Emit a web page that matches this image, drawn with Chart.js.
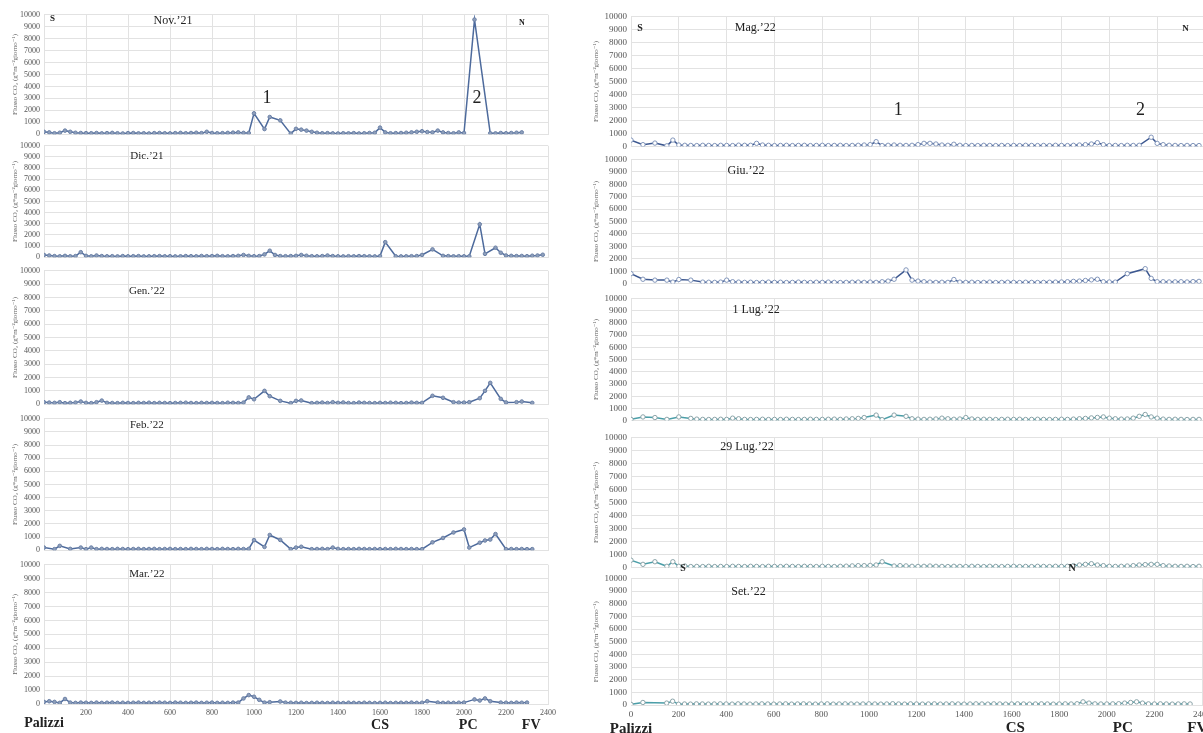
<!DOCTYPE html>
<html>
<head>
<meta charset="utf-8">
<script src="https://cdn.jsdelivr.net/npm/chart.js@4.4.1/dist/chart.umd.min.js"></script>
<style>
  body { margin: 0; background: #fff; overflow: hidden; width: 1203px; height: 733px; position: relative; }
  canvas { position: absolute; }
</style>
</head>
<body>
<script>
// distanza lungo il profilo (m), un punto ogni 25 m
const distanza = [
  0, 25, 50, 75, 100, 125, 150, 175,
  200, 225, 250, 275, 300, 325, 350, 375,
  400, 425, 450, 475, 500, 525, 550, 575,
  600, 625, 650, 675, 700, 725, 750, 775,
  800, 825, 850, 875, 900, 925, 950, 975,
  1000, 1025, 1050, 1075, 1100, 1125, 1150, 1175,
  1200, 1225, 1250, 1275, 1300, 1325, 1350, 1375,
  1400, 1425, 1450, 1475, 1500, 1525, 1550, 1575,
  1600, 1625, 1650, 1675, 1700, 1725, 1750, 1775,
  1800, 1825, 1850, 1875, 1900, 1925, 1950, 1975,
  2000, 2025, 2050, 2075, 2100, 2125, 2150, 2175,
  2200, 2225, 2250, 2275, 2300, 2325, 2350, 2375,
  2400
];
const xTicks = [0, 200, 400, 600, 800, 1000, 1200, 1400, 1600, 1800, 2000, 2200, 2400];
const yTicks = [0, 1000, 2000, 3000, 4000, 5000, 6000, 7000, 8000, 9000, 10000];

// flusso CO2 (g*m-2*giorno-1)
const nov21 = [
  200, 150, 80, 120, 300, 200, 120, 100,
  90, 80, 100, 70, 90, 110, 80, 60,
  90, 100, 70, 80, 60, 90, 100, 80,
  70, 90, 110, 80, 100, 120, 90, 200,
  100, 80, 90, 110, 130, 150, 110, 100,
  1750, null, 430, 1440, null, 1160, null, 50,
  450, 380, 300, 200, 120, 80, 90, 70,
  60, 80, 70, 90, 60, 80, 100, 120,
  550, 150, 80, 90, 100, 120, 150, 200,
  250, 180, 150, 300, 150, 100, 80, 150,
  100, null, 9600, null, null, 80, 70, 100,
  80, 100, 120, 150, null, null, null, null,
  null
];
const dic21 = [
  200, 150, 100, 80, 120, 80, 100, 450,
  120, 80, 150, 100, 80, 90, 70, 100,
  80, 90, 100, 70, 80, 90, 100, 80,
  90, 70, 80, 100, 90, 80, 110, 90,
  100, 120, 90, 80, 100, 120, 200, 120,
  90, 100, 250, 580, 200, 100, 90, 100,
  120, 200, 130, 90, 80, 100, 150, 100,
  80, 70, 90, 80, 100, 90, 80, 70,
  100, 1350, null, 80, 70, 80, 90, 100,
  200, null, 700, null, 120, 100, 80, 90,
  80, 80, null, 2950, 300, null, 850, 400,
  150, 120, 100, 110, 90, 130, 150, 220,
  null
];
const gen22 = [
  150, 120, 100, 150, 80, 100, 120, 200,
  100, 80, 150, 270, 100, 90, 80, 100,
  90, 80, 100, 90, 110, 80, 100, 90,
  80, 90, 100, 110, 90, 80, 100, 90,
  100, 90, 80, 110, 100, 90, 120, 510,
  370, null, 1000, 600, null, 250, null, 80,
  250, 280, null, 80, 100, 120, 90, 150,
  100, 130, 90, 80, 120, 100, 90, 80,
  100, 90, 110, 100, 80, 90, 120, 100,
  100, null, 630, null, 480, null, 150, 120,
  120, 150, null, 450, 1000, 1600, null, 400,
  130, null, 150, 200, null, 100, null, null,
  null
];
const feb22 = [
  200, null, 80, 330, null, 100, null, 200,
  80, 200, 80, 100, 90, 80, 100, 90,
  80, 90, 100, 80, 90, 100, 80, 90,
  100, 80, 90, 80, 100, 90, 80, 100,
  90, 80, 100, 90, 80, 100, 90, 100,
  770, null, 250, 1160, null, 780, null, 80,
  200, 260, null, 80, 90, 100, 80, 200,
  100, 80, 90, 80, 100, 90, 80, 90,
  80, 90, 80, 100, 90, 80, 90, 80,
  80, null, 600, null, 930, null, 1350, null,
  1580, 200, null, 570, 740, 810, 1230, null,
  80, 90, 80, 90, 80, 80, null, null,
  null
];
const mar22 = [
  150, 200, 150, 80, 360, 100, 80, 100,
  90, 80, 100, 80, 90, 100, 80, 90,
  80, 90, 100, 80, 90, 80, 100, 90,
  80, 100, 90, 80, 90, 100, 80, 90,
  100, 80, 90, 80, 100, 100, 400, 640,
  520, 300, 100, 130, null, 180, 100, 90,
  80, 90, 70, 80, 90, 80, 70, 90,
  80, 70, 90, 80, 70, 90, 80, 70,
  80, 90, 70, 80, 90, 80, 100, 80,
  90, 200, null, 100, 80, 90, 80, 90,
  100, null, 330, 250, 400, 200, null, 100,
  90, 80, 100, 90, 100, null, null, null,
  null
];
const mag22 = [
  500, null, 150, null, 270, null, 60, 500,
  120, 100, 90, 80, 100, 90, 80, 100,
  90, 80, 110, 100, 100, 250, 120, 100,
  80, 90, 100, 80, 90, 100, 80, 90,
  100, 80, 90, 100, 80, 90, 100, 120,
  150, 380, 80, 100, 120, 100, 90, 100,
  150, 250, 250, 200, 120, 100, 180, 100,
  80, 90, 80, 100, 90, 80, 90, 80,
  90, 80, 100, 90, 80, 90, 80, 100,
  90, 80, 100, 120, 150, 200, 300, 150,
  80, 90, 80, 100, 90, 100, null, 720,
  250, 150, 100, 90, 80, 90, 80, 80,
  null
];
const giu22 = [
  800, null, 350, null, 280, null, 280, 120,
  330, null, 280, null, 120, 110, 100, 120,
  280, 150, 120, 100, 110, 90, 100, 120,
  100, 110, 90, 100, 120, 100, 90, 110,
  100, 120, 100, 90, 100, 110, 120, 100,
  120, 100, 150, 200, 350, null, 1100, 280,
  200, 150, 120, 100, 110, 100, 330, 120,
  100, 110, 90, 100, 120, 90, 100, 110,
  100, 90, 110, 100, 90, 100, 110, 120,
  130, 150, 180, 200, 250, 300, 350, 150,
  130, 120, null, 800, null, null, 1200, 420,
  150, 150, 130, 140, 150, 130, 160, 180,
  null
];
const lug1_22 = [
  100, null, 300, null, 250, null, 100, null,
  300, null, 180, 120, 100, 90, 100, 110,
  100, 200, 150, 100, 90, 100, 110, 90,
  100, 90, 110, 100, 90, 100, 110, 100,
  100, 110, 120, 100, 130, 150, 180, 250,
  null, 450, 80, null, 450, null, 350, 150,
  120, 100, 110, 130, 200, 150, 110, 130,
  250, 130, 100, 110, 100, 90, 100, 110,
  100, 110, 90, 100, 110, 100, 90, 100,
  110, 100, 120, 150, 180, 220, 260, 300,
  200, 150, 120, 130, 200, 350, 500, 300,
  200, 120, 100, 110, 100, 90, 100, 100,
  null
];
const lug29_22 = [
  570, null, 250, null, 450, null, 100, 450,
  100, 120, 80, 90, 80, 100, 80, 90,
  80, 100, 90, 80, 100, 90, 80, 100,
  90, 80, 100, 90, 80, 100, 90, 80,
  100, 90, 80, 100, 110, 130, 150, 150,
  170, 200, 450, null, 120, 150, 130, 100,
  90, 100, 120, 100, 90, 80, 100, 90,
  80, 100, 90, 80, 100, 90, 80, 90,
  100, 80, 90, 80, 100, 90, 80, 100,
  90, 100, 150, 200, 250, 300, 200, 150,
  100, 90, 100, 120, 150, 200, 230, 250,
  250, 150, 120, 100, 90, 100, 80, 100,
  null
];
const set22 = [
  50, null, 200, null, null, null, 150, 300,
  60, 80, 70, 90, 80, 70, 80, 90,
  80, 70, 90, 80, 70, 80, 90, 80,
  70, 80, 90, 70, 80, 90, 80, 70,
  80, 90, 70, 80, 90, 80, 70, 80,
  90, 80, 70, 80, 100, 80, 70, 90,
  80, 70, 80, 90, 70, 80, 90, 80,
  70, 80, 90, 80, 70, 90, 80, 70,
  80, 90, 80, 70, 80, 90, 80, 70,
  80, 90, 80, 100, 250, 150, 90, 80,
  80, 90, 100, 150, 200, 250, 150, 90,
  80, 90, 80, 70, 80, 90, 80, null,
  null
];

const FONT = '"Liberation Serif", "DejaVu Serif", serif';
const titoloY = 'Flusso CO\u2082 (g*m\u207B\u00B2giorno\u207B\u00B9)';

// etichette di testo (posizionate in coordinate dei dati)
const etichette = {
  nov: [
    { text: 'S', x: 40, y: 9650, size: 9, bold: true },
    { text: 'Nov.\u201921', x: 614, y: 9500, size: 12 },
    { text: '1', x: 1062, y: 3000, size: 18 },
    { text: '2', x: 2062, y: 3000, size: 18 },
    { text: 'N', x: 2276, y: 9350, size: 8, bold: true }
  ],
  dic: [{ text: 'Dic.\u201921', x: 490, y: 9100, size: 11 }],
  gen: [{ text: 'Gen.\u201922', x: 490, y: 8500, size: 11 }],
  feb: [{ text: 'Feb.\u201922', x: 490, y: 9500, size: 11 }],
  mar: [
    { text: 'Mar.\u201922', x: 490, y: 9350, size: 11 },
    { text: 'Palizzi', x: 0, below: 19, size: 14, bold: true },
    { text: 'CS', x: 1600, below: 21, size: 14, bold: true },
    { text: 'PC', x: 2020, below: 21, size: 14, bold: true },
    { text: 'FV', x: 2320, below: 21, size: 14, bold: true }
  ],
  mag: [
    { text: 'S', x: 38, y: 9100, size: 10, bold: true },
    { text: 'Mag.\u201922', x: 520, y: 9100, size: 12 },
    { text: '1', x: 1117, y: 2800, size: 18 },
    { text: '2', x: 2130, y: 2800, size: 18 },
    { text: 'N', x: 2318, y: 9050, size: 9, bold: true }
  ],
  giu: [{ text: 'Giu.\u201922', x: 481, y: 9050, size: 12 }],
  lug1: [{ text: '1 Lug.\u201922', x: 523, y: 9050, size: 12 }],
  lug29: [
    { text: '29 Lug.\u201922', x: 485, y: 9250, size: 12 },
    { text: 'S', x: 218, y: -60, size: 10, bold: true },
    { text: 'N', x: 1844, y: -30, size: 10, bold: true }
  ],
  set: [
    { text: 'Set.\u201922', x: 494, y: 8900, size: 12 },
    { text: 'Palizzi', x: 0, below: 24, size: 15, bold: true },
    { text: 'CS', x: 1615, below: 23, size: 15, bold: true },
    { text: 'PC', x: 2067, below: 23, size: 15, bold: true },
    { text: 'FV', x: 2380, below: 23, size: 15, bold: true }
  ]
};

const pluginEtichette = {
  id: 'etichette',
  afterDatasetsDraw(chart) {
    const items = etichette[chart.canvas.id] || [];
    const { ctx, chartArea } = chart;
    const xs = chart.scales.x, ys = chart.scales.y;
    items.forEach((it) => {
      ctx.save();
      ctx.font = (it.bold ? 'bold ' : '') + it.size + 'px ' + FONT;
      ctx.fillStyle = '#222';
      ctx.textAlign = 'center';
      ctx.textBaseline = 'middle';
      const px = xs.getPixelForValue(it.x);
      const py = it.y !== undefined ? ys.getPixelForValue(it.y) : chartArea.bottom + it.below;
      ctx.fillText(it.text, px, py);
      ctx.restore();
    });
  }
};

// disposizione dei pannelli
const PT = 8;
const colonne = {
  sx: { left: 0, yw: 44, plotW: 504, right: 12, tickSize: 8, titlePad: 11, lastIsLeft: true },
  dx: { left: 580, yw: 51, plotW: 574, right: 10, tickSize: 9, titlePad: 12 }
};
const pannelli = [
  { id: 'nov', col: 'sx', top: 14, bottom: 137, serie: nov21, stile: 'blu' },
  { id: 'dic', col: 'sx', top: 145, bottom: 260, serie: dic21, stile: 'blu' },
  { id: 'gen', col: 'sx', top: 270, bottom: 407, serie: gen22, stile: 'blu' },
  { id: 'feb', col: 'sx', top: 418, bottom: 553, serie: feb22, stile: 'blu' },
  { id: 'mar', col: 'sx', top: 564, bottom: 704, serie: mar22, stile: 'blu', asse: true },
  { id: 'mag', col: 'dx', top: 15, bottom: 150, serie: mag22, stile: 'navy' },
  { id: 'giu', col: 'dx', top: 158, bottom: 287, serie: giu22, stile: 'navy' },
  { id: 'lug1', col: 'dx', top: 297, bottom: 424, serie: lug1_22, stile: 'teal' },
  { id: 'lug29', col: 'dx', top: 436, bottom: 571, serie: lug29_22, stile: 'teal' },
  { id: 'set', col: 'dx', top: 577, bottom: 705, serie: set22, stile: 'teal', asse: true }
];
const stili = {
  blu: { line: '#4d6a9c', point: '#8e9fbb', pointBorder: '#6b80a6', radius: 1.8 },
  navy: { line: '#3d5890', point: '#ffffff', pointBorder: '#8195ba', radius: 2.2 },
  teal: { line: '#4b9ea8', point: '#ffffff', pointBorder: '#8aa3a8', radius: 2.2 }
};

function creaPannello(p) {
  const c = colonne[p.col];
  const st = stili[p.stile];
  const xh = p.asse ? 30 : 6;
  const canvas = document.createElement('canvas');
  canvas.id = p.id;
  canvas.width = c.yw + c.plotW + c.right;
  canvas.height = p.bottom - p.top + PT + xh;
  canvas.style.left = c.left + 'px';
  canvas.style.top = (p.top - PT) + 'px';
  document.body.appendChild(canvas);

  new Chart(canvas, {
    type: 'line',
    data: {
      labels: distanza,
      datasets: [{
        data: p.serie,
        borderColor: st.line,
        borderWidth: 1.5,
        pointRadius: st.radius,
        pointBorderWidth: 1,
        pointBackgroundColor: st.point,
        pointBorderColor: st.pointBorder,
        spanGaps: true,
        tension: 0
      }]
    },
    options: {
      responsive: false,
      animation: false,
      layout: { padding: { top: PT, left: 0, right: c.right, bottom: 0 } },
      plugins: { legend: { display: false }, tooltip: { enabled: false } },
      scales: {
        x: {
          type: 'linear',
          min: 0,
          max: 2400,
          afterFit: (s) => { s.height = xh; },
          afterBuildTicks: (s) => { s.ticks = xTicks.map((v) => ({ value: v })); },
          grid: { color: '#e2e2e2', drawTicks: false },
          border: { color: '#e2e2e2' },
          ticks: {
            display: !!p.asse,
            padding: 4,
            color: '#555',
            font: { family: FONT, size: c.tickSize },
            callback: (v) => (c.lastIsLeft && v === 0 ? '' : String(v)),
            maxRotation: 0,
            autoSkip: false
          }
        },
        y: {
          min: 0,
          max: 10000,
          afterFit: (s) => { s.width = c.yw; },
          afterBuildTicks: (s) => { s.ticks = yTicks.map((v) => ({ value: v })); },
          grid: { color: '#e2e2e2', drawTicks: false },
          border: { color: '#e2e2e2' },
          ticks: {
            padding: 4,
            color: '#555',
            font: { family: FONT, size: c.tickSize },
            callback: (v) => String(v),
            autoSkip: false
          },
          title: {
            display: true,
            text: titoloY,
            color: '#666',
            padding: { top: c.titlePad, bottom: 0 },
            font: { family: FONT, size: 7 }
          }
        }
      }
    },
    plugins: [pluginEtichette]
  });
}

pannelli.forEach(creaPannello);
</script>
</body>
</html>
